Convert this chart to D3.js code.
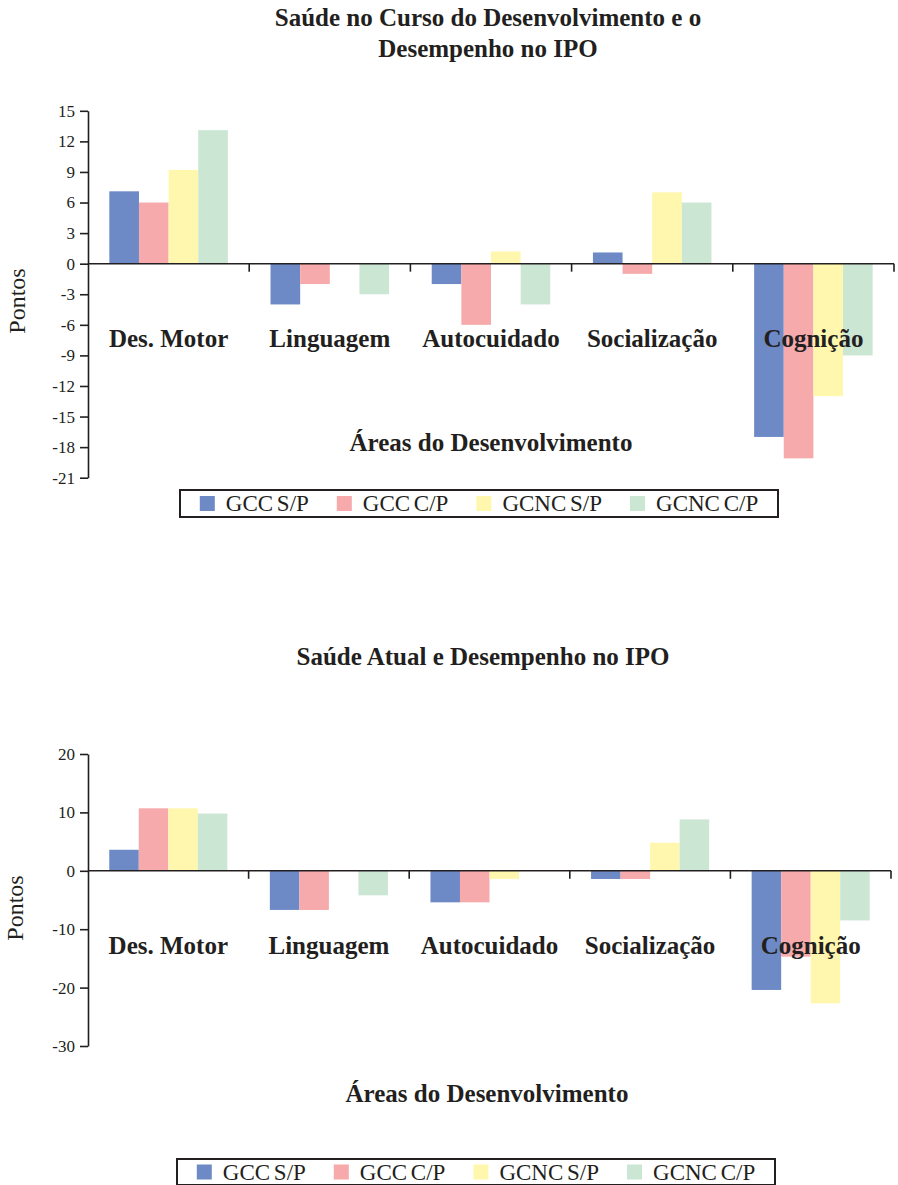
<!DOCTYPE html>
<html>
<head>
<meta charset="utf-8">
<script src="https://cdn.jsdelivr.net/npm/d3@7/dist/d3.min.js"></script>
<style>
  html, body { margin: 0; padding: 0; background: #ffffff; }
  svg text { font-family: "Liberation Serif", "Times New Roman", serif; fill: #231f20; }
</style>
</head>
<body>
<svg id="fig" width="898" height="1185"></svg>
<script>
// Developmental areas (x categories) and group series
const categories = ["Des. Motor", "Linguagem", "Autocuidado", "Socialização", "Cognição"];
const series = ["GCC S/P", "GCC C/P", "GCNC S/P", "GCNC C/P"];
const seriesColors = ["#6d8ac6", "#f6aaac", "#fff7ae", "#cce6d4"];

// Chart 1: health during development
const cursoGccSP  = [7.1, -4, -2, 1.1, -17];
const cursoGccCP  = [6, -2, -6, -1, -19.1];
const cursoGcncSP = [9.2, 0, 1.2, 7, -13];
const cursoGcncCP = [13.1, -3, -4, 6, -9];
const cursoTicks  = [-21, -18, -15, -12, -9, -6, -3, 0, 3, 6, 9, 12, 15];

// Chart 2: current health
const atualGccSP  = [3.6, -6.7, -5.4, -1.4, -20.4];
const atualGccCP  = [10.7, -6.7, -5.4, -1.4, -14.7];
const atualGcncSP = [10.7, 0, -1.4, 4.8, -22.7];
const atualGcncCP = [9.8, -4.2, 0, 8.8, -8.5];
const atualTicks  = [-30, -20, -10, 0, 10, 20];

const charts = [
  {
    title: ["Saúde no Curso do Desenvolvimento e o", "Desempenho no IPO"],
    titleX: 488, titleY: 26, titleGap: 31,
    values: [cursoGccSP, cursoGccCP, cursoGcncSP, cursoGcncCP],
    ticks: cursoTicks,
    yTop: 110.8, yBottom: 477.7,
    xLeft: 88, xRight: 894,
    axisTitleY: 451, axisTitleX: 491,
    yLabelX: 25, yLabelY: 301,
    legend: { x: 180, y: 490, w: 598, h: 27 }
  },
  {
    title: ["Saúde Atual e Desempenho no IPO"],
    titleX: 483, titleY: 665, titleGap: 31,
    values: [atualGccSP, atualGccCP, atualGcncSP, atualGcncCP],
    ticks: atualTicks,
    yTop: 754, yBottom: 1046,
    xLeft: 88, xRight: 891,
    axisTitleY: 1102, axisTitleX: 487,
    yLabelX: 23, yLabelY: 908,
    legend: { x: 177, y: 1159, w: 598, h: 26 }
  }
];

const svg = d3.select("#fig");
const ink = "#231f20";

charts.forEach(cfg => {
  const g = svg.append("g");

  // Title
  g.selectAll("text.title").data(cfg.title).join("text")
    .attr("class", "title")
    .attr("x", cfg.titleX)
    .attr("y", (d, i) => cfg.titleY + i * cfg.titleGap)
    .attr("text-anchor", "middle")
    .style("font-size", "25px")
    .style("font-weight", "bold")
    .text(d => d);

  // Scales
  const y = d3.scaleLinear()
    .domain(d3.extent(cfg.ticks))
    .range([cfg.yBottom, cfg.yTop]);

  const x0 = d3.scaleBand()
    .domain(categories)
    .range([cfg.xLeft, cfg.xRight])
    .padding(0);

  const x1 = d3.scaleBand()
    .domain(series)
    .range([0, x0.bandwidth()])
    .paddingInner(0)
    .paddingOuter(0.72);

  // Bars
  const rows = [];
  cfg.values.forEach((vals, si) => {
    vals.forEach((v, ci) => rows.push({ cat: categories[ci], ser: series[si], si, v }));
  });

  g.append("g").selectAll("rect").data(rows).join("rect")
    .attr("x", d => x0(d.cat) + x1(d.ser))
    .attr("width", x1.bandwidth())
    .attr("y", d => y(Math.max(0, d.v)))
    .attr("height", d => Math.abs(y(d.v) - y(0)))
    .attr("fill", d => seriesColors[d.si]);

  // Y axis
  const yAxis = d3.axisLeft(y)
    .tickValues(cfg.ticks)
    .tickFormat(d => String(d))
    .tickSize(8)
    .tickSizeOuter(0)
    .tickPadding(5);

  const ya = g.append("g")
    .attr("transform", `translate(${cfg.xLeft},0)`)
    .call(yAxis);
  ya.select(".domain").attr("stroke", ink).attr("stroke-width", 1.6);
  ya.selectAll(".tick line").attr("stroke", ink).attr("stroke-width", 1.6);
  ya.selectAll(".tick text")
    .style("font-size", "17px")
    .style("font-family", "'Liberation Serif', serif")
    .attr("fill", "#333");

  // Zero line with category separators
  const y0 = y(0);
  g.append("line")
    .attr("x1", cfg.xLeft).attr("x2", cfg.xRight)
    .attr("y1", y0).attr("y2", y0)
    .attr("stroke", ink).attr("stroke-width", 1.6);

  g.append("g").selectAll("line").data(categories).join("line")
    .attr("x1", d => x0(d) + x0.bandwidth())
    .attr("x2", d => x0(d) + x0.bandwidth())
    .attr("y1", y0).attr("y2", y0 + 8)
    .attr("stroke", ink).attr("stroke-width", 1.6);

  // Category labels
  g.append("g").selectAll("text").data(categories).join("text")
    .attr("x", d => x0(d) + x0.bandwidth() / 2)
    .attr("y", y0 + 83)
    .attr("text-anchor", "middle")
    .style("font-size", "25px")
    .style("font-weight", "bold")
    .text(d => d);

  // Axis titles
  g.append("text")
    .attr("x", cfg.axisTitleX)
    .attr("y", cfg.axisTitleY)
    .attr("text-anchor", "middle")
    .style("font-size", "25px")
    .style("font-weight", "bold")
    .text("Áreas do Desenvolvimento");

  g.append("text")
    .attr("transform", `translate(${cfg.yLabelX},${cfg.yLabelY}) rotate(-90)`)
    .attr("text-anchor", "middle")
    .style("font-size", "24px")
    .text("Pontos");

  // Legend
  const L = cfg.legend;
  const lg = g.append("g");
  lg.append("rect")
    .attr("x", L.x).attr("y", L.y)
    .attr("width", L.w).attr("height", L.h)
    .attr("fill", "#fff")
    .attr("stroke", ink).attr("stroke-width", 2);

  const items = lg.selectAll("g.item").data(series).join("g").attr("class", "item");
  items.append("rect")
    .attr("width", 15).attr("height", 15)
    .attr("fill", (d, i) => seriesColors[i]);
  items.append("text")
    .attr("x", 26)
    .attr("y", 15)
    .style("font-size", "23px")
    .style("word-spacing", "-2px")
    .text(d => d);

  // Lay the items out left to right from their measured text widths
  const widths = [];
  items.each(function () {
    widths.push(26 + d3.select(this).select("text").node().getComputedTextLength());
  });
  const gap = 28;
  const total = d3.sum(widths) + gap * (widths.length - 1);
  let cx = L.x + (L.w - total) / 2;
  items.each(function (d, i) {
    d3.select(this).attr("transform", `translate(${cx},${L.y + (L.h - 15) / 2})`);
    cx += widths[i] + gap;
  });
});
</script>
</body>
</html>
